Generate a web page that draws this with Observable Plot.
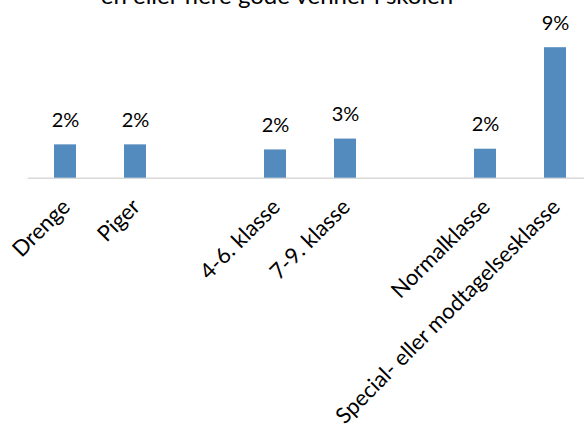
<!DOCTYPE html>
<html><head><meta charset="utf-8">
<script src="https://cdn.jsdelivr.net/npm/d3@7"></script>
<script src="https://cdn.jsdelivr.net/npm/@observablehq/plot@0.6"></script>
<style>
html,body{margin:0;padding:0;background:#fff;overflow:hidden;}
#wrap{position:relative;width:584px;height:428px;overflow:hidden;background:#fff;}
#title{position:absolute;left:0;width:554px;top:-17px;text-align:center;font-family:Lato,sans-serif;font-size:24px;line-height:24px;color:#000;white-space:nowrap;}
#chart{position:absolute;left:0;top:0;}
</style></head><body>
<div id="wrap"><div id="chart"></div><div id="title">en eller flere gode venner i skolen</div></div>
<script>
const categories = ["Drenge", "Piger", "4-6. klasse", "7-9. klasse", "Normalklasse", "Special- eller modtagelsesklasse"];
const values = [2.3, 2.3, 1.95, 2.7, 2.0, 9.0];
const xDomain = ["Drenge", "Piger", "gap1", "4-6. klasse", "7-9. klasse", "gap2", "Normalklasse", "Special- eller modtagelsesklasse"];

const data = categories.map((c, i) => ({cat: c, value: values[i]}));

const chart = Plot.plot({
  width: 584,
  height: 428,
  marginLeft: 27.7,
  marginRight: 0,
  marginTop: 32.7,
  marginBottom: 250.3,
  style: {fontFamily: "Lato, sans-serif", fontSize: "20px", color: "#000", background: "transparent"},
  x: {domain: xDomain, range: [27.7, 592.5], paddingInner: 0.69, paddingOuter: 0.345, align: 0.5, axis: null},
  y: {domain: [0, 10], range: [177.7, 32.7], axis: null},
  marks: [
    Plot.ruleY([0], {stroke: "#d9d9d9", strokeWidth: 1.5}),
    Plot.barY(data, {x: "cat", y: "value", fill: "#548BBE"}),
    Plot.text(data, {x: "cat", y: "value", text: d => Math.round(d.value) + "%", lineAnchor: "bottom", dy: -18, fontSize: 20, fill: "#000"}),
    Plot.axisX({ticks: categories, tickSize: 0, tickPadding: 25, tickRotate: -45, dx: 1, fontSize: 22, fill: "#000", label: null})
  ]
});
document.getElementById("chart").appendChild(chart);
</script>
</body></html>
